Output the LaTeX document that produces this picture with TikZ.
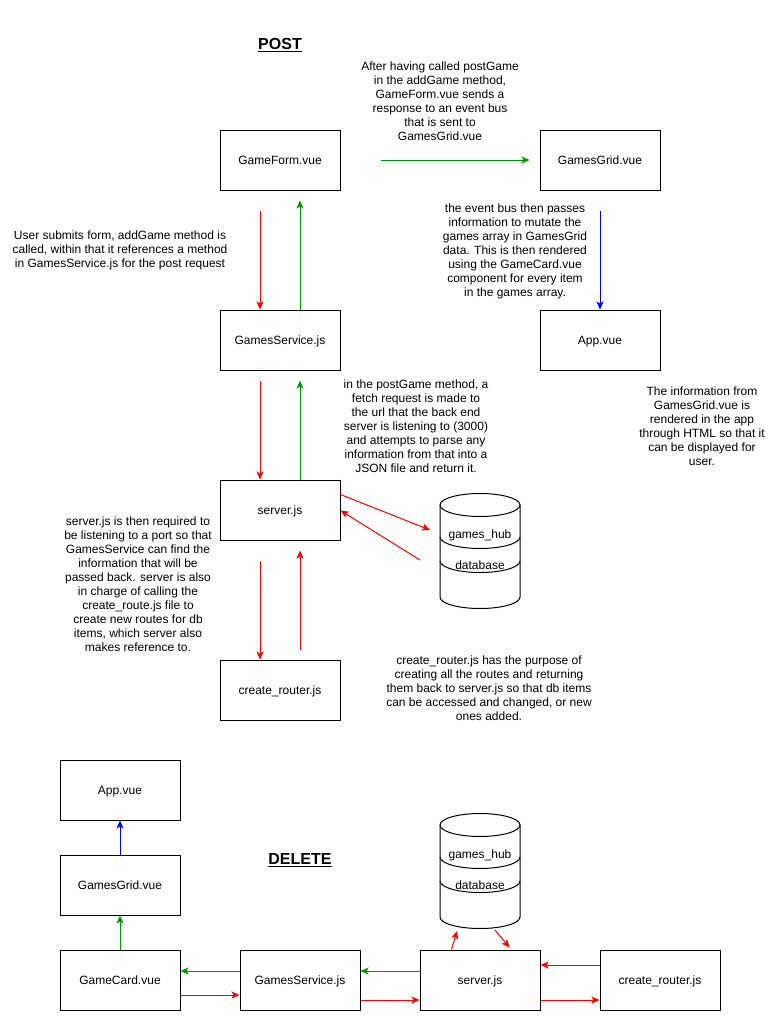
\documentclass[tikz,border=0pt]{standalone}
\usepackage{fontspec}
\setmainfont{Liberation Sans}
\usetikzlibrary{arrows.meta,calc}
\definecolor{flowred}{HTML}{FF0000}
\definecolor{flowgreen}{HTML}{009900}
\definecolor{flowblue}{HTML}{0000FF}
\begin{document}
\begin{tikzpicture}[x=1pt,y=-1pt,
  every node/.style={font=\fontsize{12}{14}\selectfont, text=black},
  box/.style={draw, line width=1pt, minimum width=120pt, minimum height=60pt, inner sep=0pt, fill=white,
    text height=10.5pt, text depth=2pt},
  note/.style={align=center, inner sep=0pt},
  heading/.style={font=\bfseries\fontsize{16}{19}\selectfont},
  link/.style={line width=1pt, -{Stealth[length=8pt,width=7pt,inset=2pt]}},
  datastore/.pic={
    \filldraw[line width=1pt, fill=white] (0,12) -- (0,104)
      arc[start angle=180, end angle=360, x radius=40pt, y radius=11.5pt]
      -- (80,12)
      arc[start angle=0, end angle=180, x radius=40pt, y radius=11.5pt] -- cycle;
    \draw[line width=1pt] (0,12) arc[start angle=180, end angle=360, x radius=40pt, y radius=11.5pt];
    \draw[line width=1pt] (0,44) arc[start angle=180, end angle=360, x radius=40pt, y radius=11.5pt];
    \draw[line width=1pt] (0,68) arc[start angle=180, end angle=360, x radius=40pt, y radius=11.5pt];
    \node (-name) at (40,42) {games\_hub};
    \node (-kind) at (40,72) {database};
  }
]
\fill[white] (0,0) rectangle (781,1021);
\useasboundingbox (0,0) rectangle (781,1021);

% ---------- POST flow ----------
\node[heading] (posttitle) at (280,45) {\underline{POST}};

\node[box] (gameform) at (280,160) {GameForm.vue};
\node[box] (gamesgrid) at (600,160) {GamesGrid.vue};
\node[box] (gsvc) at (280,340) {GamesService.js};
\node[box] (app1) at (600,340) {App.vue};
\node[box] (server1) at (280,510) {server.js};
\node[box] (router1) at (280,690) {create\_router.js};
\pic (db1) at (440,493) {datastore};

\node[note] (n1) at (440,101.5) {After having called postGame\\in the addGame method,\\GameForm.vue sends a\\response to an event bus\\that is sent to\\GamesGrid.vue};
\node[note] (n2) at (120,250.5) {User submits form, addGame method is\\called, within that it references a method\\in GamesService.js for the post request};
\node[note] (n3) at (515,251) {the event bus then passes\\information to mutate the\\games array in GamesGrid\\data. This is then rendered\\using the GameCard.vue\\component for every item\\in the games array.};
\node[note] (n4) at (416,426) {in the postGame method, a\\fetch request is made to\\the url that the back end\\server is listening to (3000)\\and attempts to parse any\\information from that into a\\JSON file and return it.};
\node[note] (n5) at (702,426) {The information from\\GamesGrid.vue is\\rendered in the app\\through HTML so that it\\can be displayed for\\user.};
\node[note] (n6) at (138,584) {server.js is then required to\\be listening to a port so that\\GamesService can find the\\information that will be\\passed back. server is also\\in charge of calling the\\create\_route.js file to\\create new routes for db\\items, which server also\\makes reference to.};
\node[note] (n7) at (489,688) {create\_router.js has the purpose of\\creating all the routes and returning\\them back to server.js so that db items\\can be accessed and changed, or new\\ones added.};

\coordinate (db1in) at (430,530);
\coordinate (db1out) at (420,560);

\draw[link, flowgreen] ($(gameform.east)+(40,0)$) -- ($(gamesgrid.west)+(-10,0)$);
\draw[link, flowred] ($(gameform.south)+(-20,20)$) -- ($(gsvc.north)+(-20,0)$);
\draw[link, flowgreen] ($(gsvc.north)+(20,0)$) -- ($(gameform.south)+(20,10)$);
\draw[link, flowblue] ($(gamesgrid.south)+(0,20)$) -- (app1.north);
\draw[link, flowred] ($(gsvc.south)+(-20,10)$) -- ($(server1.north)+(-20,0)$);
\draw[link, flowgreen] ($(server1.north)+(20,0)$) -- ($(gsvc.south)+(20,10)$);
\draw[link, flowred] ($(server1.south)+(-20,20)$) -- ($(router1.north)+(-20,0)$);
\draw[link, flowred] ($(router1.north)+(20,-10)$) -- ($(server1.south)+(20,10)$);
\draw[link, flowred] ($(server1.north east)+(0,15)$) -- (db1in);
\draw[link, flowred] (db1out) -- ($(server1.north east)+(0,31)$);

% ---------- DELETE flow ----------
\node[heading] (deltitle) at (300,860) {\underline{DELETE}};

\node[box] (app2) at (120,790) {App.vue};
\node[box] (grid2) at (120,885) {GamesGrid.vue};
\node[box] (card) at (120,980) {GameCard.vue};
\node[box] (gsvc2) at (300,980) {GamesService.js};
\node[box] (server2) at (480,980) {server.js};
\node[box] (router2) at (660,980) {create\_router.js};
\pic (db2) at (440,813) {datastore};

\coordinate (db2in) at (457,931);
\coordinate (db2out) at (495,930);

\draw[link, flowgreen] (card.north) -- (grid2.south);
\draw[link, flowblue] (grid2.north) -- (app2.south);
\draw[link, flowgreen] ($(gsvc2.west)+(0,-9)$) -- ($(card.east)+(0,-9)$);
\draw[link, flowred] ($(card.east)+(0,15)$) -- ($(gsvc2.west)+(0,15)$);
\draw[link, flowgreen] ($(server2.west)+(0,-9)$) -- ($(gsvc2.east)+(0,-9)$);
\draw[link, flowred] ($(gsvc2.east)+(0,20)$) -- ($(server2.west)+(0,20)$);
\draw[link, flowred] ($(router2.west)+(0,-15)$) -- ($(server2.east)+(0,-15)$);
\draw[link, flowred] ($(server2.east)+(0,20)$) -- ($(router2.west)+(0,20)$);
\draw[link, flowred] ($(server2.north west)+(32,0)$) -- (db2in);
\draw[link, flowred] (db2out) -- ($(server2.north west)+(90,-2)$);
\end{tikzpicture}
\end{document}
